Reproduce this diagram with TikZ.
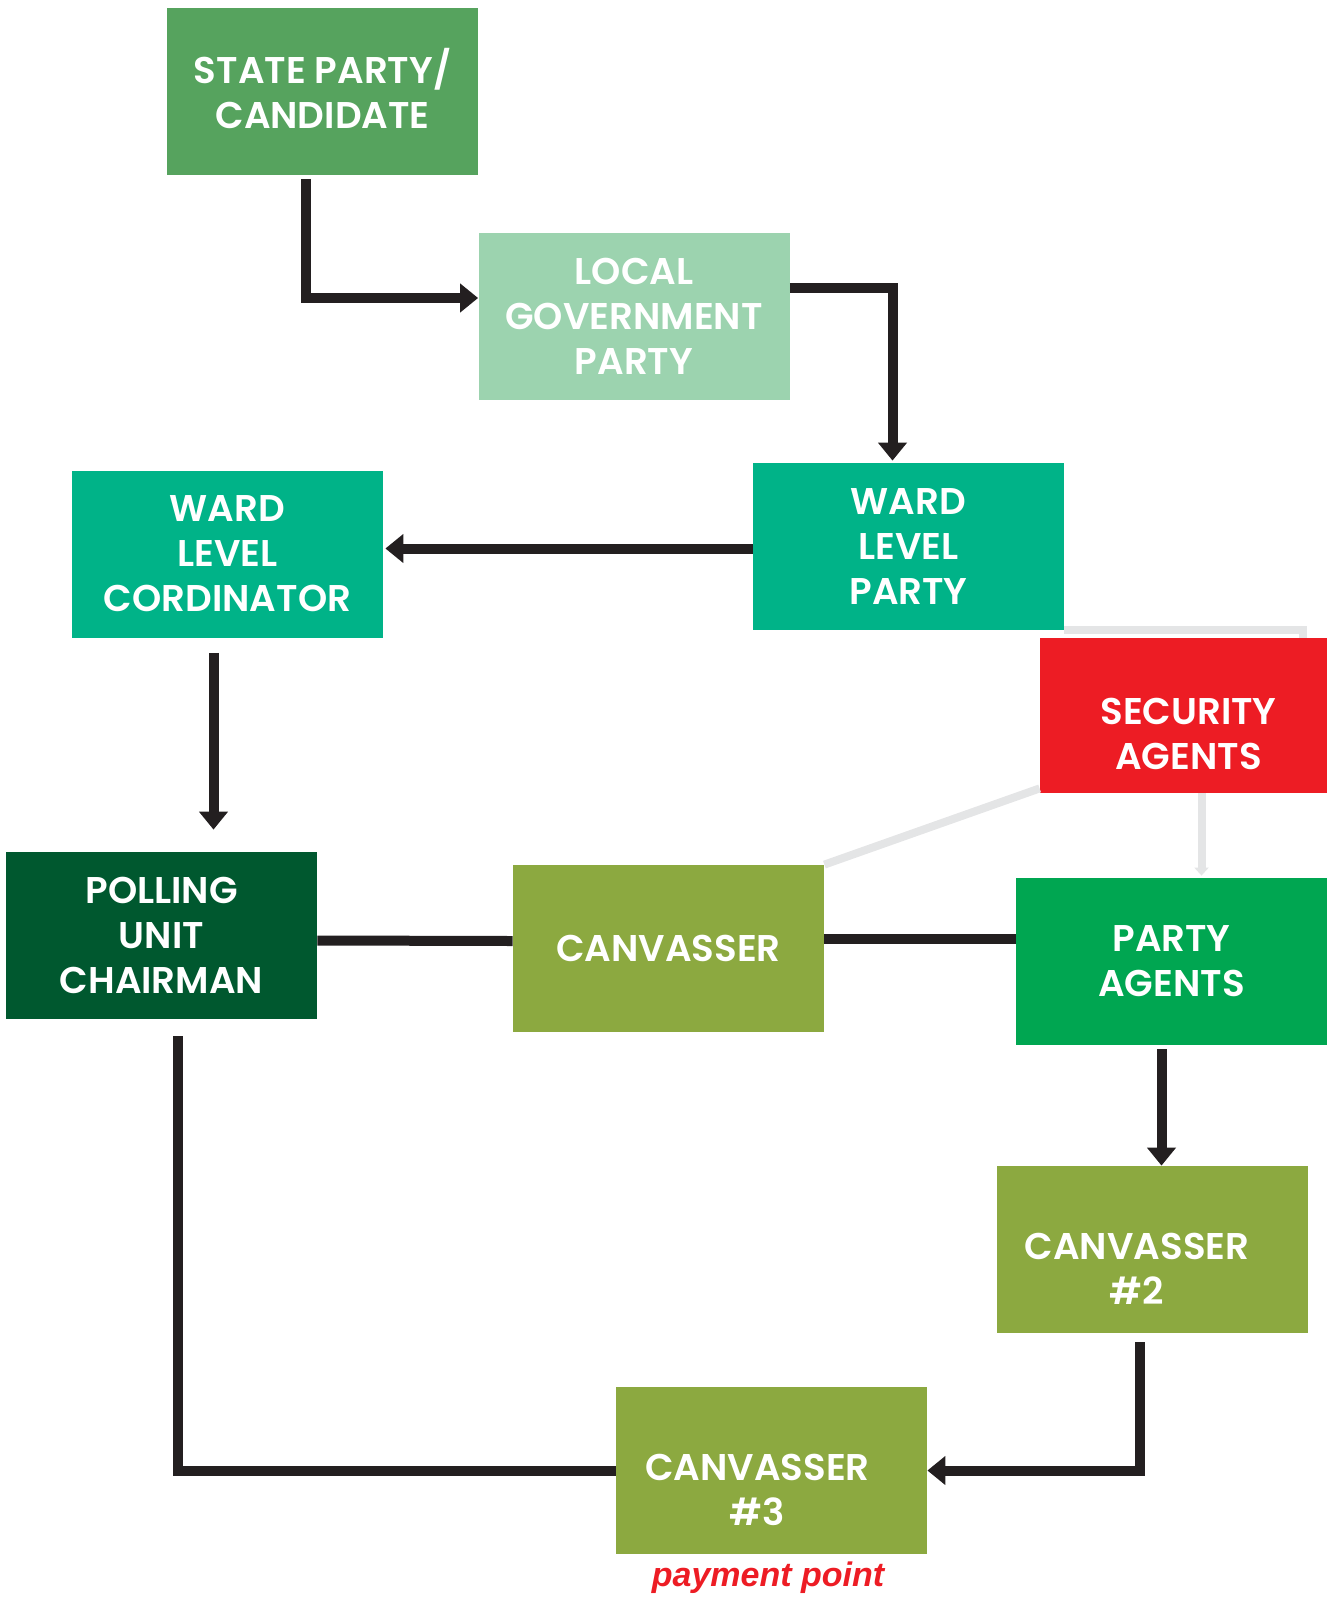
\documentclass[tikz,border=0pt]{standalone}
\usepackage{fontspec}
\setmainfont{Poppins}[BoldFont=Poppins SemiBold]
\newfontfamily\payfont{Liberation Sans}
\usepackage{tikz}
\usetikzlibrary{arrows.meta,calc}
\definecolor{stategreen}{HTML}{56A35E}
\definecolor{lgagreen}{HTML}{9CD3AF}
\definecolor{wardgreen}{HTML}{00B388}
\definecolor{securityred}{HTML}{ED1C24}
\definecolor{pollgreen}{HTML}{00582F}
\definecolor{canvolive}{HTML}{8CA940}
\definecolor{agentgreen}{HTML}{00A651}
\definecolor{arrowblack}{HTML}{231F20}
\definecolor{shadowgray}{HTML}{E4E5E6}
% text set off-centre in its box: x shift, y shift, lines
\newcommand{\offtext}[3]{\raisebox{#2}[\height][\depth]{\hspace*{#1}\begin{tabular}{@{}c@{}}#3\end{tabular}\hspace*{-#1}}}
\tikzset{%
  tipA/.tip={Triangle[length=9pt,width=14pt]},
  tipB/.tip={Triangle[length=4pt,width=7pt]},
  box/.style={minimum width=155.5pt,minimum height=83.5pt,inner sep=0pt,
    align=center,text=white,font=\bfseries\fontsize{18.6}{22.5}\selectfont},
  flow/.style={arrowblack,line width=5pt,-tipA},
  link/.style={arrowblack,line width=5pt},
  faint/.style={shadowgray,line width=4pt}
}

\begin{document}
\begin{tikzpicture}[x=0.5pt,y=-0.5pt]
\useasboundingbox (0,0) rectangle (1335,1597);
% boxes
\node[box,fill=stategreen] (state) at (322.5,91) {\offtext{0pt}{-2pt}{STATE PARTY/\\CANDIDATE}};
\node[box,fill=lgagreen] (lgp) at (634,316) {LOCAL\\GOVERNMENT\\PARTY};
\node[box,fill=wardgreen] (wlp) at (908.5,546.5) {WARD\\LEVEL\\PARTY};
\node[box,fill=wardgreen] (wlc) at (227.5,554) {WARD\\LEVEL\\CORDINATOR};
% faint links behind the security box
\draw[faint] (wlp.south east) -| (1303,638);
\node[box,fill=securityred,minimum width=143.5pt,minimum height=77.5pt] (sec) at (1183.5,715.5) {\offtext{2.5pt}{-11pt}{SECURITY\\AGENTS}};
\node[box,fill=pollgreen] (puc) at (161.5,935.5) {POLLING\\UNIT\\CHAIRMAN};
\node[box,fill=canvolive] (canv) at (668.5,948.5) {CANVASSER};
\node[box,fill=agentgreen] (pa) at (1171.5,961.5) {PARTY\\AGENTS};
\node[box,fill=canvolive] (canv2) at (1152,1249.5) {\offtext{-7.5pt}{-11.5pt}{CANVASSER\\\#2}};
\node[box,fill=canvolive] (canv3) at (771.5,1470.5) {\offtext{-7pt}{-11.5pt}{CANVASSER\\\#3}};
\node[text=securityred,font=\payfont\bfseries\itshape\fontsize{17}{20}\selectfont] (pay) at (768,1578) {payment point};
\draw[faint] ($(sec.south west)+(0,-5)$) -- (canv.north east);
\draw[faint,-tipB] ($(sec.south)+(18,0)$) -- ($(pa.north)+(30,-2)$);
% connectors
\draw[flow] ($(state.south)+(-17,4)$) |- ($(lgp.west)+(0,-18)$);
\draw[flow] ($(lgp.east)+(0,-28)$) -| ($(wlp.north)+(-16,-2)$);
\draw[flow] ($(wlp.west)+(0,2)$) -- ($(wlp.west -| wlc.east)+(2,2)$);
\draw[flow] ($(wlc.south)+(-14,15)$) -- ($(puc.north)+(52,-22)$);
\draw[link] ($(puc.east)+(0,5)$) -- ($(canv.west)+(0,-7.5)$);
\draw[link] ($(canv.east)+(0,-10)$) -- ($(pa.west)+(0,-23)$);
\draw[flow] ($(pa.south)+(-10,4)$) -- ($(canv2.north)+(9.5,0)$);
\draw[flow] ($(canv2.south)+(-12,9)$) |- (canv3.east);
\draw[link] ($(puc.south)+(16,17)$) |- (canv3.west);
\end{tikzpicture}
\end{document}
